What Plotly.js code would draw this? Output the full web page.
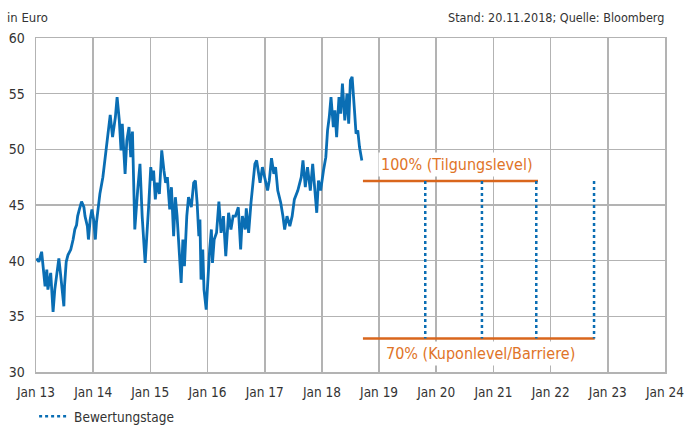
<!DOCTYPE html>
<html>
<head>
<meta charset="utf-8">
<script src="https://cdn.plot.ly/plotly-3.0.1.min.js"></script>
<style>html,body{margin:0;padding:0;background:#fff;}#chart{width:685px;height:425px;}</style>
</head>
<body>
<div id="chart"></div>
<script>
// Share price (decimal years, EUR)
const priceYears = [2013.01,2013.05,2013.10,2013.13,2013.16,2013.19,2013.21,2013.26,2013.28,2013.30,2013.33,2013.36,2013.40,2013.43,2013.46,2013.49,2013.50,2013.53,2013.56,2013.61,2013.65,2013.68,2013.71,2013.73,2013.76,2013.80,2013.84,2013.86,2013.90,2013.92,2013.95,2013.98,
2014.01,2014.04,2014.06,2014.09,2014.12,2014.17,2014.20,2014.25,2014.30,2014.34,2014.39,2014.42,2014.46,2014.49,2014.51,2014.56,2014.59,2014.63,2014.66,2014.69,2014.73,2014.78,2014.82,2014.86,2014.91,2014.97,
2015.01,2015.04,2015.06,2015.09,2015.12,2015.16,2015.20,2015.24,2015.27,2015.30,2015.34,2015.37,2015.39,2015.41,2015.44,2015.47,2015.54,2015.57,2015.60,2015.64,2015.67,2015.72,2015.76,2015.79,2015.82,2015.85,2015.87,2015.89,2015.92,2015.94,2015.98,
2016.01,2016.04,2016.07,2016.09,2016.12,2016.16,2016.20,2016.24,2016.28,2016.32,2016.37,2016.41,2016.45,2016.49,2016.54,2016.58,2016.61,2016.66,2016.68,2016.72,2016.76,2016.80,2016.83,2016.86,2016.89,2016.92,2016.96,
2017.00,2017.05,2017.08,2017.12,2017.16,2017.19,2017.23,2017.28,2017.32,2017.35,2017.39,2017.44,2017.48,2017.52,2017.58,2017.64,2017.67,2017.71,2017.75,2017.80,2017.84,2017.88,2017.91,2017.94,2017.98,
2018.03,2018.07,2018.10,2018.13,2018.16,2018.20,2018.23,2018.26,2018.30,2018.33,2018.36,2018.40,2018.44,2018.47,2018.50,2018.53,2018.57,2018.60,2018.63,2018.66,2018.70];
const prices = [40.2,39.9,40.8,39.2,37.7,39.2,37.4,38.9,36.5,35.4,37.4,38.6,40.2,38.9,37.4,35.9,37.7,39.9,40.5,41.0,41.9,42.8,43.2,44.0,44.6,45.3,44.8,44.0,43.1,41.9,43.7,44.6,
43.7,41.9,43.4,44.6,46.0,47.5,48.7,50.8,53.1,51.1,52.9,54.7,52.6,49.9,52.3,47.8,50.8,52.0,49.3,51.6,42.8,46.3,48.7,44.0,39.8,44.8,
48.4,47.2,48.1,45.5,47.0,46.0,49.9,48.1,47.0,47.5,44.6,46.6,44.0,42.2,45.7,44.0,38.0,41.9,39.5,44.0,45.7,44.8,47.0,47.2,45.2,42.2,43.7,38.3,41.0,37.4,35.6,
38.9,41.0,42.8,39.8,41.9,42.5,45.3,42.5,44.0,40.4,44.3,42.8,44.0,44.0,44.8,41.0,44.0,42.8,44.7,42.5,45.2,47.2,48.7,49.0,48.1,47.0,48.4,
47.5,46.3,47.2,49.2,47.8,48.4,46.3,45.2,44.0,42.8,44.0,43.1,44.0,45.5,46.3,47.5,49.0,46.6,48.4,46.3,48.7,46.3,44.3,47.2,46.3,
48.1,49.3,51.7,52.9,54.7,52.0,53.5,51.1,54.7,53.2,55.9,52.6,55.0,52.3,56.2,56.5,53.5,51.4,51.7,50.2,49.0];

// Levels
const level100 = 47.15;
const level70 = 33.0;
const level100Years = [2018.72, 2021.78];
const level70Years = [2018.72, 2022.77];
const valuationYears = [2019.81, 2020.80, 2021.75, 2022.76];

// Axis ticks
const tickYears = [2013, 2014, 2015, 2016, 2017, 2018, 2019, 2020, 2021, 2022, 2023, 2024];
const tickLabels = ['Jan 13', 'Jan 14', 'Jan 15', 'Jan 16', 'Jan 17', 'Jan 18', 'Jan 19', 'Jan 20', 'Jan 21', 'Jan 22', 'Jan 23', 'Jan 24'];

const labels = {
  unit: 'in Euro',
  source: 'Stand: 20.11.2018; Quelle: Bloomberg',
  l100: '100% (Tilgungslevel)',
  l70: '70% (Kuponlevel/Barriere)',
  legend: 'Bewertungstage'
};

function yearToDate(t) {
  const y = Math.floor(t);
  const s = Date.UTC(y, 0, 1), e = Date.UTC(y + 1, 0, 1);
  return new Date(s + (t - y) * (e - s)).toISOString().slice(0, 10);
}

const FONT = 'DejaVu Sans Condensed, Liberation Sans, Arial, sans-serif';
const BLUE = '#0a6eb4';
const ORANGE = '#d9661c';
const ORANGE_TXT = '#e07428';
const GRID = '#b3b3b3';
const TXT = '#333333';

const vx = [], vy = [];
valuationYears.forEach(t => { vx.push(yearToDate(t), yearToDate(t), null); vy.push(level100, level70, null); });

const traces = [
  { x: priceYears.map(yearToDate), y: prices, type: 'scatter', mode: 'lines',
    line: { color: BLUE, width: 2.8 }, showlegend: false, hoverinfo: 'skip' },
  { x: level100Years.map(yearToDate), y: [level100, level100], type: 'scatter', mode: 'lines',
    line: { color: ORANGE, width: 2.5 }, showlegend: false },
  { x: level70Years.map(yearToDate), y: [level70, level70], type: 'scatter', mode: 'lines',
    line: { color: ORANGE, width: 2.5 }, showlegend: false },
  { x: vx, y: vy, type: 'scatter', mode: 'lines', name: labels.legend,
    line: { color: BLUE, width: 2.5, dash: 'dot' }, connectgaps: false, showlegend: true }
];

const layout = {
  width: 685, height: 425,
  margin: { l: 36, r: 20, t: 38, b: 53, autoexpand: false },
  paper_bgcolor: '#fff', plot_bgcolor: '#fff',
  font: { family: FONT, size: 14, color: TXT },
  xaxis: {
    type: 'date', range: ['2013-01-01', '2024-01-01 03:00'],
    tickmode: 'array', tickvals: tickYears.map(yearToDate), ticktext: tickLabels,
    showgrid: true, gridcolor: GRID, gridwidth: 1.5,
    showline: true, linecolor: GRID, linewidth: 1.5, mirror: true,
    zeroline: false, ticks: '', ticklabelstandoff: 7, automargin: false,
    ticklabeloverflow: 'allow',
    tickfont: { family: FONT, size: 13.5, color: TXT }, fixedrange: true
  },
  yaxis: {
    range: [30, 60], tick0: 30, dtick: 5,
    showgrid: true, gridcolor: GRID, gridwidth: 1.5,
    showline: true, linecolor: GRID, linewidth: 1.5, mirror: true,
    zeroline: false, ticks: '', ticklabelstandoff: 7, automargin: false,
    ticklabeloverflow: 'allow',
    tickfont: { family: FONT, size: 14, color: TXT }, fixedrange: true
  },
  showlegend: true,
  legend: { x: -0.003, xanchor: 'left', y: -0.087, yanchor: 'top', orientation: 'h',
    font: { family: FONT, size: 13.5, color: TXT }, bgcolor: 'rgba(0,0,0,0)' },
  annotations: [
    { xref: 'paper', yref: 'paper', x: -0.0493, y: 1.062, xanchor: 'left', yanchor: 'middle',
      text: labels.unit, showarrow: false, font: { family: FONT, size: 13, color: TXT } },
    { xref: 'paper', yref: 'paper', x: 1.0016, y: 1.062, xanchor: 'right', yanchor: 'middle',
      text: labels.source, showarrow: false, font: { family: FONT, size: 12.5, color: TXT } },
    { xref: 'x', yref: 'y', x: yearToDate(2020.36), y: level100, yanchor: 'bottom', yshift: 4,
      text: labels.l100, showarrow: false, bgcolor: '#fff', borderpad: 2,
      font: { family: FONT, size: 16, color: ORANGE_TXT } },
    { xref: 'x', yref: 'y', x: yearToDate(2020.78), y: level70, yanchor: 'top', yshift: -2,
      text: labels.l70, showarrow: false, bgcolor: '#fff', borderpad: 2,
      font: { family: FONT, size: 16, color: ORANGE_TXT } }
  ]
};

Plotly.newPlot('chart', traces, layout, { staticPlot: true, displayModeBar: false });
</script>
</body>
</html>
